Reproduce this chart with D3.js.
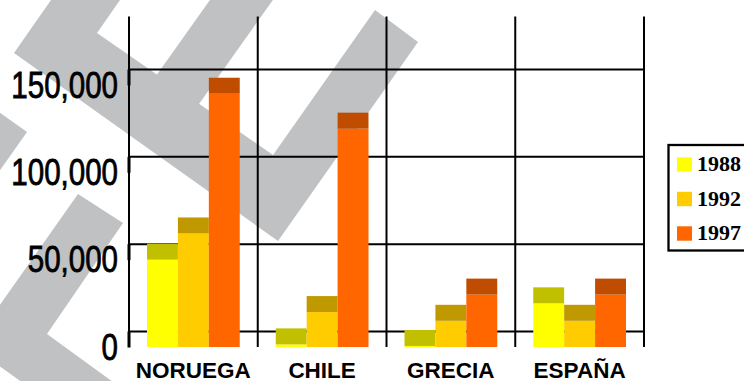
<!DOCTYPE html>
<html>
<head>
<meta charset="utf-8">
<script src="https://cdn.jsdelivr.net/npm/d3@7"></script>
<style>
  html, body { margin: 0; padding: 0; background: #ffffff; }
  svg { display: block; }
</style>
</head>
<body>
<div id="chart"></div>
<script>
// Production by country and year
const categories = ["NORUEGA", "CHILE", "GRECIA", "ESPAÑA"];
const years = ["1988", "1992", "1997"];
const values1988 = [50000, 1500, 600, 25000];
const values1992 = [65000, 20000, 15000, 15000];
const values1997 = [145000, 125000, 30000, 30000];
const yTicks = [0, 50000, 100000, 150000];

const seriesValues = [values1988, values1992, values1997];
const frontColors = ["#ffff00", "#ffcc00", "#ff6600"];
const topColors = ["#c0c000", "#c09900", "#c04c00"];

const W = 744, H = 381;
const depth = 16;            // vertical offset between back wall and bar fronts
const left = 129, right = 644;
const zeroY = 331;

const svg = d3.select("#chart").append("svg")
  .attr("width", W).attr("height", H);

// Background grey zig-zag ornament
const ornament = [
  [[58, -10], [14, 53], [278, 241], [418, 42], [375, 10], [273, 155], [97, 33], [127, -10]],
  [[217, -10], [280, -10], [194, 111], [151, 83]],
  [[-40, 84], [27, 132], [-40, 227]],
  [[78, 194], [123, 223], [47, 334], [124, 390], [33, 390], [-29, 346]]
];
svg.append("g").selectAll("polygon").data(ornament).join("polygon")
  .attr("points", d => d.map(p => p.join(",")).join(" "))
  .attr("fill", "#c0c1c3");

// Scales
const y = d3.scaleLinear().domain([0, 180000]).range([zeroY, zeroY - 180000 * 262 / 150000]);
const x = d3.scaleBand().domain(categories).range([left, right]).padding(0);
const xs = d3.scaleBand().domain(years).range([18, x.bandwidth() - 18]).padding(0);

// Horizontal grid + value labels
const fmt = d3.format(",");
const yAxis = d3.axisLeft(y)
  .tickValues(yTicks)
  .tickFormat(fmt)
  .tickSizeInner(-(right - left + 1))
  .tickSizeOuter(0)
  .tickPadding(11);

const yg = svg.append("g").attr("transform", `translate(${left},0)`).call(yAxis);
yg.select(".domain").remove();
yg.selectAll(".tick line").attr("stroke", "#000").attr("stroke-width", 2);
// narrow-face widths: digits 0.456em, comma 0.228em
const narrowWidth = s => s.split("").reduce((w, ch) => w + (ch === "," ? 0.228 : 0.456), 0) * 36;
yg.selectAll(".tick text")
  .attr("dy", null)
  .attr("y", 28)
  .attr("fill", "#000")
  .attr("textLength", d => narrowWidth(fmt(d)))
  .attr("lengthAdjust", "spacingAndGlyphs")
  .style("font-family", "'Liberation Sans', Arial, sans-serif")
  .style("font-size", "36px")
  .style("stroke", "#000")
  .style("stroke-width", "0.8px");
// short depth ticks along the left wall
yg.selectAll(".tick").append("line")
  .attr("x1", 0).attr("x2", 0).attr("y1", 0).attr("y2", depth)
  .attr("stroke", "#000").attr("stroke-width", 3);

// Vertical grid lines at category boundaries
const xEdges = categories.map(c => x(c)).concat([x(categories[categories.length - 1]) + x.bandwidth()]);
svg.append("g").selectAll("line").data(xEdges).join("line")
  .attr("x1", d => d).attr("x2", d => d)
  .attr("y1", y(180000)).attr("y2", y(0) + depth)
  .attr("stroke", "#000").attr("stroke-width", 2);

// Bars: front face plus darker top face
const barData = [];
categories.forEach((c, ci) => {
  years.forEach((yr, si) => {
    barData.push({ cat: c, year: yr, si, value: seriesValues[si][ci] });
  });
});

const bars = svg.append("g").selectAll("g").data(barData).join("g")
  .attr("transform", d => `translate(${x(d.cat) + xs(d.year)},0)`);

bars.append("rect")
  .attr("x", 0).attr("width", xs.bandwidth())
  .attr("y", d => y(d.value) + depth)
  .attr("height", d => y(0) - y(d.value))
  .attr("fill", d => frontColors[d.si]);

bars.append("rect")
  .attr("x", 0).attr("width", xs.bandwidth())
  .attr("y", d => y(d.value))
  .attr("height", depth)
  .attr("fill", d => topColors[d.si]);

// Category labels
svg.append("g").selectAll("text").data(categories).join("text")
  .attr("x", d => x(d) + x.bandwidth() / 2)
  .attr("y", 378)
  .attr("text-anchor", "middle")
  .style("font-family", "'Liberation Sans', Arial, sans-serif")
  .style("font-weight", "bold")
  .style("font-size", "22.5px")
  .text(d => d);

// Legend
const lg = svg.append("g");
lg.append("rect")
  .attr("x", 668.5).attr("y", 145).attr("width", 110).attr("height", 105.5)
  .attr("fill", "#fff").attr("stroke", "#000").attr("stroke-width", 2.3);
const items = lg.selectAll("g").data(years).join("g")
  .attr("transform", (d, i) => `translate(0,${171 + i * 34.5})`);
items.append("rect")
  .attr("x", 677).attr("y", -13.7).attr("width", 15).attr("height", 14.4)
  .attr("fill", (d, i) => frontColors[i]);
items.append("text")
  .attr("x", 697).attr("y", 0)
  .style("font-family", "'Liberation Serif', 'Times New Roman', serif")
  .style("font-weight", "bold")
  .style("font-size", "22px")
  .text(d => d);
</script>
</body>
</html>
